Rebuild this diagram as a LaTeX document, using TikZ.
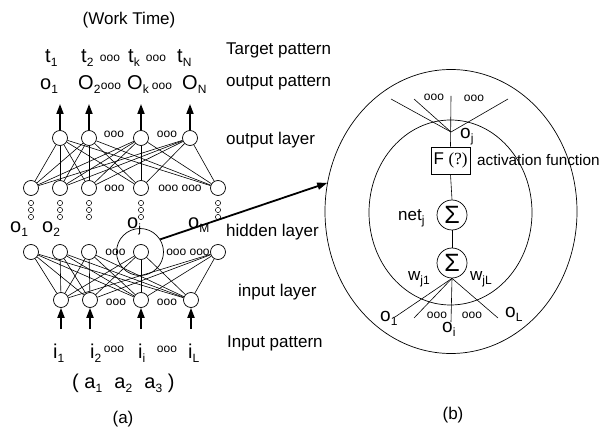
\documentclass[tikz,border=0pt]{standalone}
\usepackage{fontspec}
\setmainfont{Liberation Sans}
\newfontfamily\serifF{Liberation Serif}
\usetikzlibrary{arrows.meta,shapes.geometric}
\newcommand\sbs[1]{\raisebox{-4pt}{\fontsize{12}{12}\selectfont #1}}
\begin{document}
\begin{tikzpicture}[x=1pt,y=-1pt,
  neuron/.style={circle,draw,minimum size=15pt,inner sep=0pt,line width=0.7pt},
  wire/.style={line width=0.6pt},
  thickarrow/.style={line width=1.8pt,-{Triangle[length=10pt,width=7pt]}},
  lbl/.style={inner sep=0pt,anchor=base west,font=\fontsize{17}{20}\selectfont},
  sym/.style={inner sep=0pt,anchor=base west,font=\fontsize{20}{22}\selectfont},
  dts/.style={inner sep=0pt,font=\fontsize{12}{12}\selectfont},
  sig/.style={circle,draw,minimum size=30pt,inner sep=0pt,line width=0.7pt,font=\fontsize{25}{25}\selectfont},
  ]
\useasboundingbox (0,0) rectangle (605,430);

% ---------- (a) network ----------
\node[lbl,anchor=base] (wt) at (129,25) {(Work Time)};

\node[sym] (t1) at (45,63) {t\sbs{1}};
\node[sym] (t2) at (81,63) {t\sbs{2}};
\node[dts] (td1) at (110,58) {ooo};
\node[sym] (tk) at (128,63) {t\sbs{k}};
\node[dts] (td2) at (156,58) {ooo};
\node[sym] (tN) at (177,63) {t\sbs{N}};

\node[sym] (oo1) at (40,90) {o\sbs{1}};
\node[sym] (oo2) at (78,90) {O\sbs{2}};
\node[dts] (od1) at (111,86) {ooo};
\node[sym] (ook) at (127,90) {O\sbs{k}};
\node[dts] (od2) at (162,86) {ooo};
\node[sym] (ooN) at (182,90) {O\sbs{N}};

% output layer
\foreach \n/\x in {1/60,2/89,3/141,4/190}
  \node[neuron] (O\n) at (\x,138) {};
\node[dts] (Od1) at (114,134) {ooo};
\node[dts] (Od2) at (167,134) {ooo};

% hidden layer (upper row)
\foreach \n/\x in {1/31,2/60,3/89,4/141,5/218}
  \node[neuron] (H\n) at (\x,188) {};
\node[dts] (Hd1) at (114.5,188) {ooo};
\node[dts] (Hd2) at (180,188) {ooo ooo};

% lower row
\foreach \n/\x in {1/31,2/60,3/89,4/141,5/218}
  \node[neuron] (L\n) at (\x,252) {};
\node[dts] (Ld1) at (115.5,252) {ooo};
\node[dts] (Ld2) at (188,252) {ooo ooo};

% input layer
\foreach \n/\x in {1/61,2/90,3/141,4/191}
  \node[neuron] (I\n) at (\x,300) {};
\node[dts] (Id1) at (116,302) {ooo};
\node[dts] (Id2) at (167,302) {ooo};

% connections
\foreach \a in {1,...,4}
  \foreach \b in {1,...,5}
    \draw[wire] (O\a) -- (H\b);
\foreach \a in {1,...,5}
  \foreach \b in {1,...,4}
    \draw[wire] (L\a) -- (I\b);

% vertical dots under hidden nodes
\foreach \x in {31,60,89,141,218}
  \foreach \y in {203,210,217}
    \draw[line width=0.5pt] (\x,\y) circle (2.6pt);

% labels of hidden outputs
\node[sym] (ho1) at (10,233) {o\sbs{1}};
\node[sym] (ho2) at (42,233) {o\sbs{2}};
\node[sym] (hoj) at (127,229) {o\sbs{j}};
\node[sym] (hoM) at (188,229) {o\sbs{M}};

% output arrows
\foreach \n/\x in {1/60,2/89,3/141,4/190} {
  \coordinate (oa\n) at (\x,104);
  \draw[thickarrow] (O\n) -- (oa\n);
}
% input arrows
\foreach \n/\x in {1/61,2/90,3/141,4/191} {
  \coordinate (ia\n) at (\x,329);
  \draw[thickarrow] (ia\n) -- (I\n);
}

\node[sym] (i1) at (53,358) {i\sbs{1}};
\node[sym] (i2) at (90,358) {i\sbs{2}};
\node[dts] (id1) at (114,349) {ooo};
\node[sym] (ii) at (138,358) {i\sbs{i}};
\node[dts] (id2) at (167,349) {ooo};
\node[sym] (iL) at (188,358) {i\sbs{L}};

\node[sym] (avec) at (72,388) {( a\sbs{1}\,\, a\sbs{2}\,\, a\sbs{3} )};
\node[lbl,anchor=base] (capa) at (123,423) {(a)};

% layer labels
\node[lbl] (tp) at (226,55) {Target pattern};
\node[lbl] (op) at (226,87) {output pattern};
\node[lbl] (ol) at (226,145) {output layer};
\node[lbl] (hl) at (226,237) {hidden layer};
\node[lbl] (il) at (238,297) {input layer};
\node[lbl] (ip) at (227,347) {Input pattern};

% magnifier circle
\node[circle,draw,minimum size=47pt,inner sep=0pt,line width=0.7pt] (big) at (140,252) {};

% ---------- (b) neuron ----------
\node[ellipse,draw,minimum width=252pt,minimum height=284pt,inner sep=0pt,line width=0.7pt] (outer) at (451,211.5) {};
\node[ellipse,draw,minimum width=163pt,minimum height=185pt,inner sep=0pt,line width=0.7pt] (inner) at (450.5,212.5) {};

\draw[thickarrow] (big.32) -- (outer.167);

\node[draw,rectangle,minimum width=39pt,minimum height=27pt,inner sep=0pt,line width=0.7pt,font=\fontsize{17}{20}\selectfont] (F) at (450.5,160.5) {F {\serifF (?)}};
\node[lbl,font=\fontsize{15.3}{18}\selectfont] (act) at (477,166) {activation function};
\node[sig] (S1) at (452,215) {Σ};
\node[sig] (S2) at (452,263) {Σ};
\node[lbl] (net) at (398,221) {net\sbs{j}};

\coordinate (apex) at (451,132);
\coordinate (tf1) at (391,99);
\coordinate (tf2) at (414,99);
\coordinate (tf3) at (451,96);
\coordinate (tf4) at (508,99);
\draw[wire] (tf1) -- (apex) -- (tf4);
\draw[wire] (tf2) -- (apex);
\draw[wire] (tf3) -- (F.north);
\draw[wire] (F.south) -- (S1.north);
\draw[wire] (S1.south) -- (S2.north);
\node[dts] (rd1) at (434,97) {ooo};
\node[dts] (rd2) at (474,98) {ooo};
\node[lbl,font=\fontsize{19}{20}\selectfont] (roj) at (460,139) {o\sbs{j}};

\coordinate (bf1) at (395,317);
\coordinate (bf2) at (414,318);
\coordinate (bf3) at (451,322);
\coordinate (bf4) at (498,318);
\foreach \c in {bf1,bf2,bf3,bf4}
  \draw[wire] (S2.south) -- (\c);
\node[lbl] (wj1) at (408,281) {w\sbs{j1}};
\node[lbl] (wjL) at (470,281) {w\sbs{jL}};
\node[lbl,font=\fontsize{19}{20}\selectfont] (ro1) at (380,322) {o\sbs{1}};
\node[lbl,font=\fontsize{19}{20}\selectfont] (roi) at (442,333) {o\sbs{i}};
\node[lbl,font=\fontsize{19}{20}\selectfont] (roL) at (505,318) {o\sbs{L}};
\node[dts] (rd3) at (437,315) {ooo};
\node[dts] (rd4) at (472,315) {ooo};

\node[lbl,anchor=base] (capb) at (453,419) {(b)};
\end{tikzpicture}
\end{document}
